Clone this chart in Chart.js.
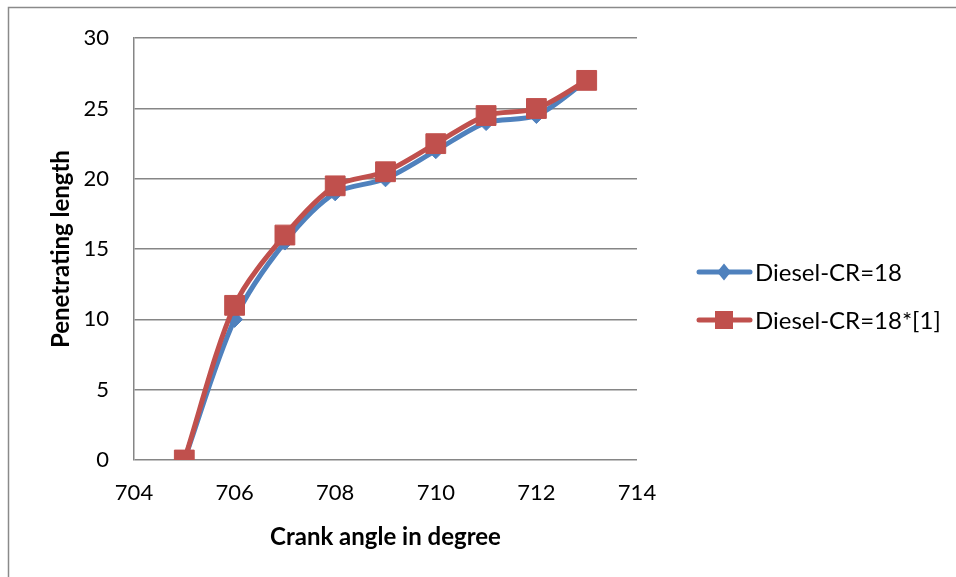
<!DOCTYPE html>
<html>
<head>
<meta charset="utf-8">
<script src="https://cdn.jsdelivr.net/npm/chart.js@4/dist/chart.umd.min.js"></script>
<style>
  html, body { margin: 0; padding: 0; background: #fff; }
  #wrap { position: absolute; left: 0; top: 0; width: 956px; height: 577px; }
</style>
</head>
<body>
<div id="wrap"><canvas id="mycanvas" width="956" height="577"></canvas></div>
<script>
// values
var crankAngle = [705, 706, 707, 708, 709, 710, 711, 712, 713];
var dieselCR18 = [0, 10, 15.5, 19, 20, 22, 24, 24.5, 27];
var dieselCR18Ref = [0, 11, 16, 19.5, 20.5, 22.5, 24.5, 25, 27];
var seriesNames = ["Diesel-CR=18", "Diesel-CR=18*[1]"];
var xTicks = [704, 706, 708, 710, 712, 714];
var yTicks = [0, 5, 10, 15, 20, 25, 30];

function pairs(xs, ys) {
	var out = [];
	for (var i in xs) {
		out.push({x: xs[i], y: ys[i]});
	}
	return out;
}

var gridColor = "#868686";
var fontFam = "Lato, 'Open Sans', sans-serif";

// frame on the top and left edge, legend on the right
var extras = {
	id: "extras",
	beforeDraw: function(chart) {
		var ctx = chart.ctx;
		ctx.save();
		ctx.strokeStyle = "#8a8a8a";
		ctx.lineWidth = 1.5;
		ctx.beginPath();
		ctx.moveTo(8.5, 600);
		ctx.lineTo(8.5, 7.5);
		ctx.lineTo(1000, 7.5);
		ctx.stroke();
		ctx.restore();
	},
	afterDraw: function(chart) {
		var ctx = chart.ctx;
		var rows = [272, 320];
		ctx.save();
		chart.data.datasets.forEach(function(ds, i) {
			var y = rows[i];
			ctx.strokeStyle = ds.borderColor;
			ctx.lineWidth = ds.borderWidth;
			ctx.lineCap = "round";
			ctx.beginPath();
			ctx.moveTo(699, y);
			ctx.lineTo(750, y);
			ctx.stroke();
			ctx.fillStyle = ds.pointBackgroundColor;
			var cx = 724;
			if (ds.pointStyle === "rect") {
				ctx.fillRect(cx - 9, y - 9, 18, 18);
			} else {
				ctx.beginPath();
				ctx.moveTo(cx, y - 8.5);
				ctx.lineTo(cx + 7, y);
				ctx.lineTo(cx, y + 8.5);
				ctx.lineTo(cx - 7, y);
				ctx.closePath();
				ctx.fill();
			}
			ctx.fillStyle = "#000";
			ctx.font = "24px " + fontFam;
			ctx.textAlign = "left";
			ctx.textBaseline = "middle";
			ctx.fillText(seriesNames[i], 755, y + 1);
		});
		ctx.restore();
	}
};

var chartdata = {
	datasets: [
		{
			label: seriesNames[0],
			data: pairs(crankAngle, dieselCR18),
			borderColor: "#4F81BD",
			backgroundColor: "#4F81BD",
			pointBackgroundColor: "#4F81BD",
			pointBorderColor: "#4F81BD",
			borderWidth: 5,
			pointStyle: "rectRot",
			pointRadius: 8,
			pointBorderWidth: 1,
			tension: 0.3,
			fill: false,
			order: 1
		},
		{
			label: seriesNames[1],
			data: pairs(crankAngle, dieselCR18Ref),
			borderColor: "#C0504D",
			backgroundColor: "#C0504D",
			pointBackgroundColor: "#C0504D",
			pointBorderColor: "#C0504D",
			borderWidth: 5,
			pointStyle: "rect",
			pointRadius: 14,
			pointBorderWidth: 1,
			tension: 0.3,
			fill: false,
			order: 0
		}
	]
};

var ctx = document.getElementById("mycanvas");

var LineGraph = new Chart(ctx, {
	type: "line",
	data: chartdata,
	plugins: [extras],
	options: {
		responsive: false,
		devicePixelRatio: 1,
		animation: false,
		layout: { padding: { left: 0, top: 37, right: 319, bottom: 0 } },
		plugins: {
			legend: { display: false },
			tooltip: { enabled: false }
		},
		scales: {
			x: {
				type: "linear",
				min: 704,
				max: 714,
				afterBuildTicks: function(scale) {
					scale.ticks = xTicks.map(function(v) { return {value: v}; });
				},
				afterFit: function(scale) { scale.height = 117; },
				grid: { display: false, drawTicks: false },
				border: { display: false },
				ticks: {
					color: "#000",
					padding: 20,
					maxRotation: 0,
					font: { family: fontFam, size: 22 }
				},
				title: {
					display: true,
					text: "Crank angle in degree",
					color: "#000",
					padding: { top: 0, bottom: 25 },
					font: { family: fontFam, size: 24, weight: "bold" }
				}
			},
			y: {
				min: 0,
				max: 30,
				afterBuildTicks: function(scale) {
					scale.ticks = yTicks.map(function(v) { return {value: v}; });
				},
				afterFit: function(scale) { scale.width = 134; },
				grid: { color: gridColor, lineWidth: 1.5, drawTicks: false },
				border: { display: true, color: gridColor, width: 1.5 },
				ticks: {
					color: "#000",
					padding: 25,
					font: { family: fontFam, size: 22 }
				},
				title: {
					display: true,
					text: "Penetrating length",
					color: "#000",
					padding: { top: 47, bottom: 0 },
					font: { family: fontFam, size: 24, weight: "bold" }
				}
			}
		}
	}
});
</script>
</body>
</html>
